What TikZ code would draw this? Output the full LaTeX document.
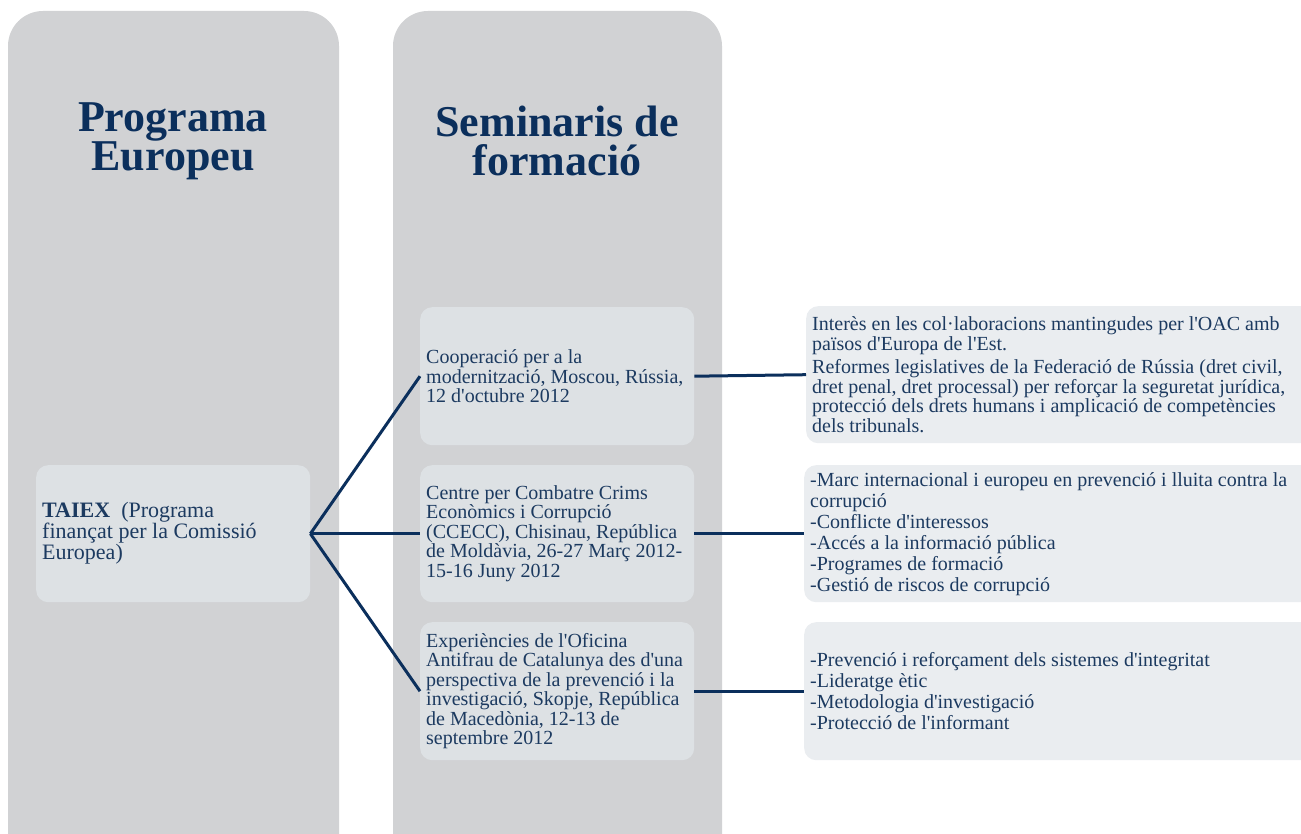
\documentclass[tikz,border=0pt]{standalone}
\usepackage{fontspec}
\setmainfont{Liberation Serif}[Ligatures=TeXOff]
\definecolor{panelgray}{HTML}{D1D2D4}
\definecolor{innerbox}{HTML}{DDE1E4}
\definecolor{outerbox}{HTML}{EAEDF0}
\definecolor{navy}{HTML}{0B2F5C}
\definecolor{bodytext}{HTML}{1C3A60}
\begin{document}
\begin{tikzpicture}[x=1pt,y=-1pt,
  panel/.style={fill=panelgray, rounded corners=35pt},
  heading/.style={text=navy, font=\fontsize{44}{39}\selectfont\bfseries, align=center, inner sep=0pt},
  midbox/.style={fill=innerbox, rounded corners=12pt, anchor=north west, minimum width=274pt, minimum height=138pt, inner sep=0pt},
  sidebox/.style={fill=outerbox, rounded corners=12pt, anchor=north west, minimum width=510pt, minimum height=137pt, inner sep=0pt},
  boxtext/.style={anchor=west, align=left, inner sep=0pt, text=bodytext, font=\fontsize{20}{19.5}\selectfont},
  link/.style={draw=navy, line width=3pt}]
\useasboundingbox (0,0) rectangle (1301,834);
\clip (0,0) rectangle (1301,834);
\fill[white] (0,0) rectangle (1301,834);
% columns
\path[panel] (8,11) rectangle (339,900);
\path[panel] (393,11) rectangle (722,900);
\node[heading] (h1) at (173,141) {Programa\\Europeu};
\node[heading] (h2) at (557,141) {Seminaris de\\formació};
% boxes
\node[midbox, minimum height=137pt] (taiex) at (36,465) {};
\node[boxtext, font=\fontsize{22}{21}\selectfont] (taiext) at ([xshift=6pt]taiex.west) {\textbf{TAIEX}\ \ (Programa\\finançat per la Comissió\\Europea)};
\node[midbox] (m1) at (420,307) {};
\node[boxtext] (m1t) at ([xshift=6pt]m1.west) {Cooperació per a la\\modernització, Moscou, Rússia,\\12 d'octubre 2012};
\node[midbox, minimum height=137pt] (m2) at (420,465) {};
\node[boxtext] (m2t) at ([xshift=6pt]m2.west) {Centre per Combatre Crims\\Econòmics i Corrupció\\(CCECC), Chisinau, República\\de Moldàvia, 26-27 Març 2012-\\15-16 Juny 2012};
\node[midbox] (m3) at (420,622) {};
\node[boxtext] (m3t) at ([xshift=6pt]m3.west) {Experiències de l'Oficina\\Antifrau de Catalunya des d'una\\perspectiva de la prevenció i la\\investigació, Skopje, República\\de Macedònia, 12-13 de\\septembre 2012};
\node[sidebox] (r1) at (806,306) {};
\node[boxtext] (r1t) at ([xshift=6pt]r1.west) {Interès en les col·laboracions mantingudes per l'OAC amb\\països d'Europa de l'Est.\\[4pt]Reformes legislatives de la Federació de Rússia (dret civil,\\dret penal, dret processal) per reforçar la seguretat jurídica,\\protecció dels drets humans i amplicació de competències\\dels tribunals.};
\node[sidebox] (r2) at (804,465) {};
\node[boxtext, font=\fontsize{20}{21}\selectfont] (r2t) at ([xshift=6pt]r2.west) {-Marc internacional i europeu en prevenció i lluita contra la\\corrupció\\-Conflicte d'interessos\\-Accés a la informació pública\\-Programes de formació\\-Gestió de riscos de corrupció};
\node[sidebox, minimum height=138pt] (r3) at (804,622) {};
\node[boxtext, font=\fontsize{20}{21}\selectfont] (r3t) at ([xshift=6pt]r3.west) {-Prevenció i reforçament dels sistemes d'integritat\\-Lideratge ètic\\-Metodologia d'investigació\\-Protecció de l'informant};
% connectors
\draw[link] (taiex.east) -- (m1.west);
\draw[link] (taiex.east) -- (m2.west);
\draw[link] (taiex.east) -- (m3.west);
\draw[link] (m1.east) -- (r1.west);
\draw[link] (m2.east) -- (r2.west);
\draw[link] (m3.east) -- (r3.west);
\end{tikzpicture}
\end{document}
